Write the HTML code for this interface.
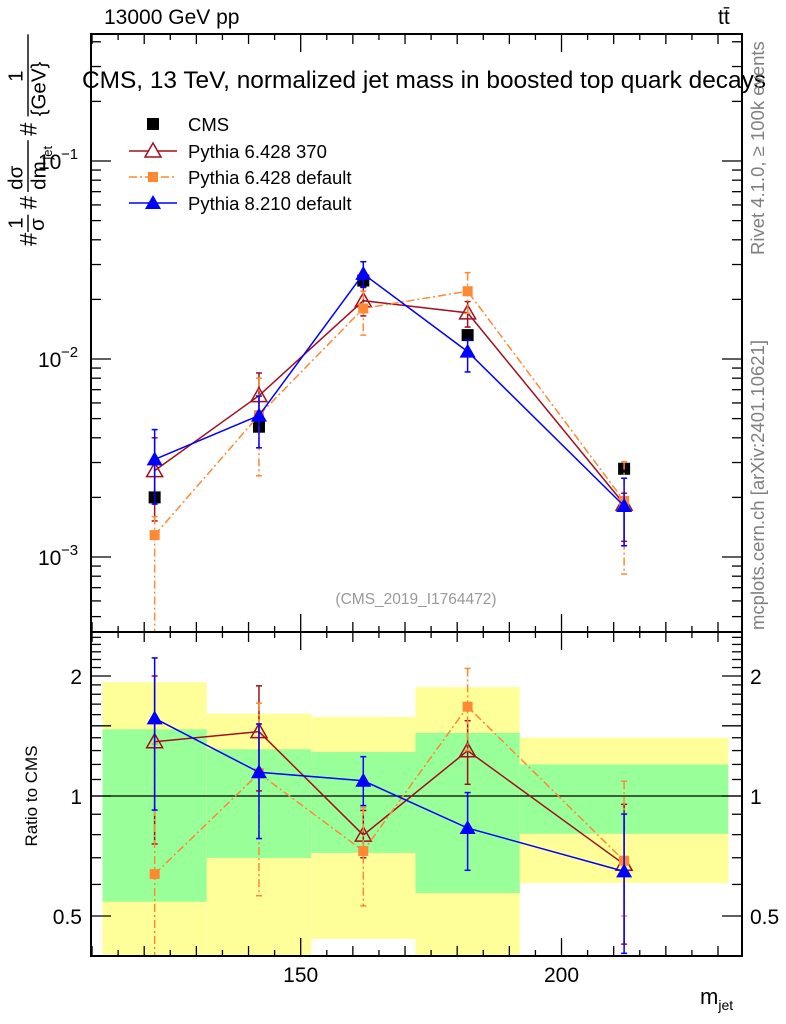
<!DOCTYPE html>
<html><head><meta charset="utf-8"><style>
html,body{margin:0;padding:0;background:#fff}
svg{display:block;font-family:"Liberation Sans",sans-serif}
</style></head><body>
<svg id="c" width="786" height="1024" viewBox="0 0 786 1024" xmlns="http://www.w3.org/2000/svg">
<g id="bands"></g>
<g id="grid"></g>
<g id="series"></g>
<g id="frames"></g>
<g id="labels"></g>
</svg>
<script>
// ---- data ----
const binEdges = [112, 132, 152, 172, 192, 232];
const binCenters = [122, 142, 162, 182, 212];
const cmsVals = [2.0e-3, 4.55e-3, 2.49e-2, 1.32e-2, 2.79e-3];
const p6370Vals = [2.73e-3, 6.53e-3, 1.97e-2, 1.71e-2, 1.85e-3];
const p6370Up = [4.0e-3, 8.5e-3, 2.3e-2, 1.95e-2, 2.1e-3];
const p6370Lo = [1.52e-3, 5.0e-3, 1.65e-2, 1.45e-2, 1.2e-3];
const p6defVals = [1.29e-3, 5.2e-3, 1.80e-2, 2.2e-2, 1.92e-3];
const p6defUp = [1.6e-3, 8.0e-3, 2.2e-2, 2.73e-2, 3.03e-3];
const p6defLo = [3.0e-4, 2.57e-3, 1.32e-2, 1.7e-2, 8.2e-4];
const p8Vals = [3.11e-3, 5.18e-3, 2.69e-2, 1.09e-2, 1.81e-3];
const p8Up = [4.4e-3, 6.5e-3, 3.1e-2, 1.25e-2, 2.5e-3];
const p8Lo = [1.85e-3, 3.56e-3, 2.3e-2, 8.6e-3, 1.14e-3];
// ratio panel
const yellowHi = [1.93, 1.61, 1.58, 1.875, 1.40];
const yellowLo = [0.30, 0.30, 0.438, 0.30, 0.605];
const greenHi = [1.47, 1.31, 1.29, 1.44, 1.20];
const greenLo = [0.543, 0.699, 0.72, 0.571, 0.804];
const r6370 = [1.368, 1.45, 0.798, 1.299, 0.674];
const r6370Up = [2.0, 1.89, 0.92, 1.545, 0.953];
const r6370Lo = [0.758, 1.03, 0.70, 1.07, 0.425];
const r6def = [0.637, 1.14, 0.728, 1.675, 0.688];
const r6defUp = [1.35, 1.71, 0.935, 2.09, 1.09];
const r6defLo = [0.30, 0.562, 0.53, 1.3, 0.5];
const r8 = [1.566, 1.147, 1.092, 0.831, 0.647];
const r8Up = [2.22, 1.516, 1.255, 1.02, 0.901];
const r8Lo = [0.922, 0.782, 0.946, 0.651, 0.403];
const xTickLabels = [150, 200];
const mainTickLabels = ["10", "10", "10"];
const mainTickExp = [-1, -2, -3];
const ratioTickLabels = [0.5, 1, 2];

// ---- geometry ----
const L=91, R=742, T=34, M=632, B=956;
const XMIN=109.8, XMAX=234.6;
const X = v => L + (v - XMIN) / (XMAX - XMIN) * (R - L);
const Y = v => 161 - (Math.log10(v) + 1) * 198;
const YR = v => 796 - Math.log2(v) * 120;
const clampM = y => Math.max(T, Math.min(M, y));
const clampR = y => Math.max(M, Math.min(B, y));
const NS = "http://www.w3.org/2000/svg";
function mk(tag, attrs, parent, txt){
  const e = document.createElementNS(NS, tag);
  for (const k in attrs) e.setAttribute(k, attrs[k]);
  if (txt !== undefined) e.textContent = txt;
  parent.appendChild(e); return e;
}
const gB = document.getElementById('bands'), gG = document.getElementById('grid'),
      gS = document.getElementById('series'), gF = document.getElementById('frames'),
      gL = document.getElementById('labels');

// bands
for (let i=0;i<binCenters.length;i++){
  const x0=X(binEdges[i]), x1=X(binEdges[i+1]);
  const y1=clampR(YR(yellowHi[i])), y2=clampR(YR(yellowLo[i]));
  const r=mk('rect',{x:x0,y:y1,width:x1-x0,height:y2-y1,fill:'#ffff99'},gB);
  
  
  const g1=clampR(YR(greenHi[i])), g2=clampR(YR(greenLo[i]));
  const r2=mk('rect',{x:x0,y:g1,width:x1-x0,height:g2-g1,fill:'#99ff99'},gB);
  
  
}
mk('line',{x1:L,x2:R,y1:YR(1),y2:YR(1),stroke:'#000','stroke-width':1.2},gB);

// frames
mk('rect',{x:L,y:T,width:R-L,height:M-T,fill:'none',stroke:'#000','stroke-width':2},gF);
mk('rect',{x:L,y:M,width:R-L,height:B-M,fill:'none',stroke:'#000','stroke-width':2},gF);

// x ticks
function xticks(top,bot){
  for (let v=110; v<=234; v+=5){
    const len = v%50===0?18:(v%10===0?10:6);
    const x=X(v); if (x<L||x>R) continue;
    mk('line',{x1:x,x2:x,y1:bot,y2:bot-len,stroke:'#000','stroke-width':1.3},gF);
    mk('line',{x1:x,x2:x,y1:top,y2:top+len,stroke:'#000','stroke-width':1.3},gF);
  }
}
xticks(T,M); xticks(M,B);
// main y ticks
for (let d=-4; d<=0; d++){
  for (let m=1;m<=9;m++){
    const v=m*Math.pow(10,d); const y=Y(v);
    if (y<T||y>M) continue;
    const len=m===1?20:10;
    mk('line',{x1:L,x2:L+len,y1:y,y2:y,stroke:'#000','stroke-width':1.3},gF);
    mk('line',{x1:R,x2:R-len,y1:y,y2:y,stroke:'#000','stroke-width':1.3},gF);
  }
}
// ratio y ticks
for (let v=0.4; v<=2.6; v+=0.1){
  const y=YR(v); if (y<M+2||y>B-2) continue;
  const big=[0.5,1,1.5,2].some(t=>Math.abs(t-v)<1e-6);
  const len=big?20:10;
  mk('line',{x1:L,x2:L+len,y1:y,y2:y,stroke:'#000','stroke-width':1.3},gF);
  mk('line',{x1:R,x2:R-len,y1:y,y2:y,stroke:'#000','stroke-width':1.3},gF);
}

// tick labels
xTickLabels.forEach(v=>{
  const t=mk('text',{x:X(v),y:982,'font-size':21,'text-anchor':'middle'},gL,String(v));
  
  
});
mainTickExp.forEach((e,i)=>{
  const y=Y(Math.pow(10,e));
  const t=mk('text',{x:38,y:y+8,'font-size':21},gL,mainTickLabels[i]);
  
  
  mk('text',{x:61,y:y-2,'font-size':15},gL,'\u2212'+Math.abs(e));
});
ratioTickLabels.forEach(v=>{
  const y=YR(v)+8;
  const t=mk('text',{x:82,y:y,'font-size':21,'text-anchor':'end'},gL,String(v));
  
  
  const t2=mk('text',{x:750,y:y,'font-size':21},gL,String(v));
  
  
});

// series drawing
function marker(g,type,x,y,col){
  if (type==='sq') mk('rect',{x:x-6,y:y-6,width:12,height:12,fill:col},g);
  else if (type==='osq') mk('rect',{x:x-5,y:y-5,width:10,height:10,fill:col},g);
  else if (type==='tri') mk('polygon',{points:`${x},${y-8} ${x-8},${y+6} ${x+8},${y+6}`,fill:col},g);
  else if (type==='otri') mk('polygon',{points:`${x},${y-8} ${x-8},${y+6} ${x+8},${y+6}`,fill:'none',stroke:col,'stroke-width':1.5},g);
}
function series(name,vals,up,lo,yf,clamp,col,type,dash){
  const g=mk('g',{},gS);
  
  
  const pts=vals.map((v,i)=>[X(binCenters[i]),yf(v)]);
  if (col!=='#000'){
    mk('polyline',{points:pts.map(p=>p.join(',')).join(' '),fill:'none',stroke:col,'stroke-width':1.5,'stroke-dasharray':dash||'none'},g);
  }
  vals.forEach((v,i)=>{
    const x=pts[i][0];
    if (up){
      const yu=clamp(yf(up[i])), yl=clamp(yf(lo[i]));
      mk('line',{x1:x,x2:x,y1:yu,y2:yl,stroke:col,'stroke-width':1.5,'stroke-dasharray':dash||'none'},g);
      mk('line',{x1:x-3,x2:x+3,y1:yu,y2:yu,stroke:col,'stroke-width':1.5},g);
      mk('line',{x1:x-3,x2:x+3,y1:yl,y2:yl,stroke:col,'stroke-width':1.5},g);
    }
    marker(g,type,x,pts[i][1],col);
  });
}
const RED='#a0101e', ORG='#ff8833', BLU='#0000ff';
series('cms-data',cmsVals,null,null,Y,clampM,'#000','sq');
series('pythia6-370',p6370Vals,p6370Up,p6370Lo,Y,clampM,RED,'otri');
series('pythia6-default',p6defVals,p6defUp,p6defLo,Y,clampM,ORG,'osq','8,3,2,3');
series('pythia8-default',p8Vals,p8Up,p8Lo,Y,clampM,BLU,'tri');
series('ratio-pythia6-370',r6370,r6370Up,r6370Lo,YR,clampR,RED,'otri');
series('ratio-pythia6-default',r6def,r6defUp,r6defLo,YR,clampR,ORG,'osq','8,3,2,3');
series('ratio-pythia8-default',r8,r8Up,r8Lo,YR,clampR,BLU,'tri');
</script>
<div style="position:absolute;left:0;top:0;width:786px;height:1024px;pointer-events:none">
<svg width="786" height="1024" style="position:absolute;left:0;top:0;font-family:'Liberation Sans',sans-serif">
<text x="104" y="24" font-size="21">13000 GeV pp</text>
<text x="718" y="24" font-size="21">tt̄</text>
<text x="82" y="88" font-size="24" textLength="684" lengthAdjust="spacingAndGlyphs">CMS, 13 TeV, normalized jet mass in boosted top quark decays</text>
<g font-size="18.5">
 <g><rect x="147" y="118" width="12" height="12" fill="#000"/><text x="188" y="131">CMS</text></g>
 <g><line x1="129" x2="177" y1="151" y2="151" stroke="#a0101e" stroke-width="1.5"/><polygon points="153,143 145,157 161,157" fill="#fff" stroke="#a0101e" stroke-width="1.5"/><text x="188" y="158">Pythia 6.428 370</text></g>
 <g><line x1="129" x2="177" y1="177" y2="177" stroke="#ff8833" stroke-width="1.5" stroke-dasharray="8,3,2,3"/><rect x="148" y="172" width="10" height="10" fill="#ff8833"/><text x="188" y="184">Pythia 6.428 default</text></g>
 <g><line x1="129" x2="177" y1="203" y2="203" stroke="#0000ff" stroke-width="1.5"/><polygon points="153,195 145,209 161,209" fill="#0000ff"/><text x="188" y="210">Pythia 8.210 default</text></g>
</g>
<text x="416" y="604" font-size="15.5" fill="#999" text-anchor="middle">(CMS_2019_I1764472)</text>
<g transform="translate(28,246) rotate(-90) scale(1.08)" font-size="22">
 <text x="0" y="8">#</text>
 <text x="16" y="-5" font-size="19">1</text><line x1="13" x2="29" y1="0" y2="0" stroke="#000" stroke-width="1.3"/><text x="14" y="15" font-size="19">σ</text>
 <text x="34" y="8">#</text>
 <text x="52" y="-5" font-size="19">dσ</text><line x1="50" x2="98" y1="0" y2="0" stroke="#000" stroke-width="1.3"/><text x="52" y="16" font-size="19">dm</text><text x="80" y="22" font-size="12">jet</text>
 <text x="102" y="8">#</text>
 <text x="152" y="-5" font-size="19">1</text><line x1="120" x2="196" y1="0" y2="0" stroke="#000" stroke-width="1.3"/><text x="120" y="16" font-size="19">{GeV}</text>
</g>
<text transform="translate(37,796) rotate(-90)" font-size="17" text-anchor="middle">Ratio to CMS</text>
<text x="700" y="1004" font-size="22">m<tspan font-size="14" dy="6">jet</tspan></text>
<text transform="translate(764,255) rotate(-90)" font-size="18.5" fill="#808080">Rivet 4.1.0, ≥ 100k events</text>
<text transform="translate(764,630) rotate(-90)" font-size="18.5" fill="#808080">mcplots.cern.ch [arXiv:2401.10621]</text>
</svg>
</div>
</body></html>
